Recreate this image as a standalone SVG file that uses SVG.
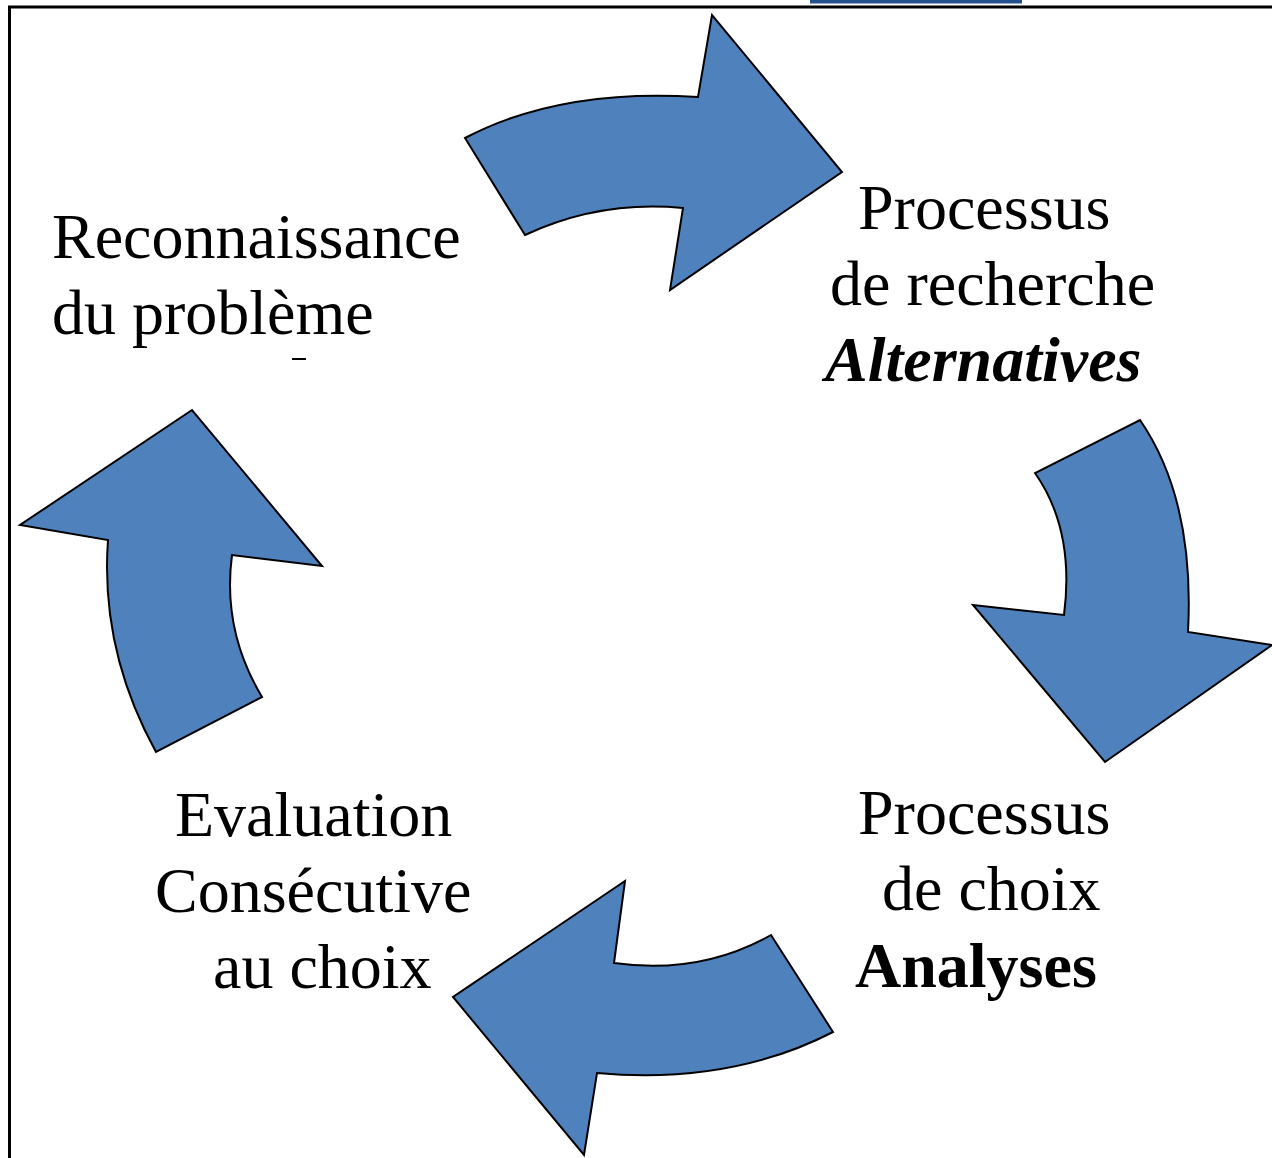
<svg xmlns="http://www.w3.org/2000/svg" width="1272" height="1158" viewBox="0 0 1272 1158">
<style>
.arrow{fill:#4F81BD;stroke:#000;stroke-width:2;stroke-linejoin:miter}
.t{font-family:"Liberation Serif","Times New Roman",serif;font-size:64px;fill:#000}
.b{font-weight:bold}
.bi{font-weight:bold;font-style:italic}
</style>
<rect x="0" y="0" width="1272" height="1158" fill="#fff"/>
<rect x="810" y="0" width="212" height="3.5" fill="#24528F"/>
<path d="M8,7 H1272 M9.5,7 V1158" fill="none" stroke="#000" stroke-width="3"/>
<path d="M292,359 H306" stroke="#000" stroke-width="2"/>
<g id="connectors">
<path class="arrow" d="M465,138 Q560,88 698,97 L712,15 L842,172 L670,290 L683,208 Q600,200 525,235 Z"/>
<path class="arrow" d="M1140,420 Q1195,500 1188,632 L1272,645 L1105,762 L973,605 L1064,615 Q1075,530 1035,473 Z"/>
<path class="arrow" d="M833,1032 Q730,1085 597,1073 L584,1155 L453,997 L625,881 L614,963 Q700,975 771,935 Z"/>
<path class="arrow" d="M156,752 Q100,650 108,540 L20,525 L192,410 L322,566 L232,555 Q222,630 262,697 Z"/>
</g>
<g id="node-reconnaissance">
<text class="t" x="52" y="258">Reconnaissance</text>
<text class="t" x="52" y="334">du problème</text>
</g>
<g id="node-recherche">
<text class="t" x="858" y="229">Processus</text>
<text class="t" x="830" y="305">de recherche</text>
<text class="t bi" x="825" y="381">Alternatives</text>
</g>
<g id="node-choix">
<text class="t" x="858" y="834">Processus</text>
<text class="t" x="882" y="910">de choix</text>
<text class="t b" x="855" y="987">Analyses</text>
</g>
<g id="node-evaluation">
<text class="t" x="175" y="836">Evaluation</text>
<text class="t" x="155" y="912">Consécutive</text>
<text class="t" x="213" y="988">au choix</text>
</g>
</svg>
